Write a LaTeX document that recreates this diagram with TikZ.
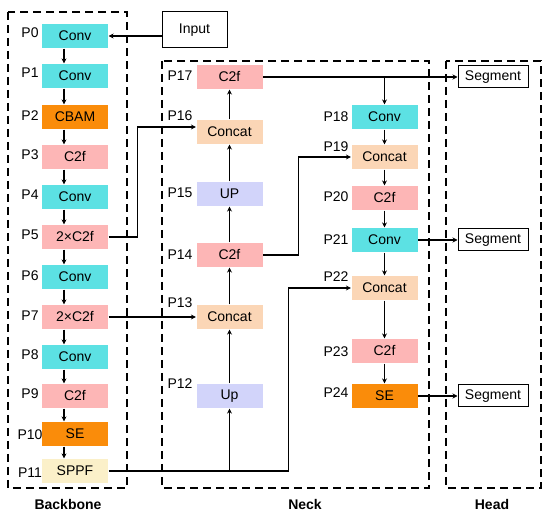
\documentclass[tikz,border=0pt]{standalone}
\usepackage{fontspec}
\setmainfont{Liberation Sans}
\usetikzlibrary{arrows.meta, positioning}
\definecolor{convcyan}{HTML}{5CE1E3}
\definecolor{attnorange}{HTML}{FA8C0A}
\definecolor{cfpink}{HTML}{FDB6B6}
\definecolor{catpeach}{HTML}{FBD6B6}
\definecolor{uplav}{HTML}{D2D4FA}
\definecolor{sppfcream}{HTML}{FBF0C9}

\begin{document}
\begin{tikzpicture}[
      x=1pt, y=-1pt,
      every node/.style={font=\fontsize{14}{16}\selectfont},
      blk/.style={minimum width=66pt, minimum height=24pt, inner sep=0pt},
      conv/.style={blk, fill=convcyan},
      attn/.style={blk, fill=attnorange},
      cf/.style={blk, fill=cfpink},
      cat/.style={blk, fill=catpeach},
      upl/.style={blk, fill=uplav},
      sppf/.style={blk, fill=sppfcream},
      io/.style={draw, line width=1pt, fill=white, inner sep=0pt},
      lbl/.style={inner sep=0pt},
      part/.style={draw, line width=1.3pt, dash pattern=on 8pt off 5pt},
      title/.style={font=\fontsize{14}{16}\selectfont\bfseries},
      >={Stealth[length=5pt, width=5pt]},
      line width=1.1pt,
    ]
    \useasboundingbox (0,0) rectangle (550,516);

    % dashed parts
    \draw[part] (8,12) rectangle (127,488);
    \draw[part] (162,61) rectangle (429,488);
    \draw[part] (446,61) rectangle (541,488);
    \node[title] (tback) at (68,504) {Backbone};
    \node[title] (tneck) at (305,504) {Neck};
    \node[title] (thead) at (492,504) {Head};

    % backbone
    \node[conv] (p0) at (75,36) {Conv};
    \node[conv] (p1) at (75,76) {Conv};
    \node[attn] (p2) at (75,117) {CBAM};
    \node[cf] (p3) at (75,157) {C2f};
    \node[conv] (p4) at (75,197) {Conv};
    \node[cf] (p5) at (75,237) {2×C2f};
    \node[conv] (p6) at (75,277) {Conv};
    \node[cf] (p7) at (75,317) {2×C2f};
    \node[conv] (p8) at (75,357) {Conv};
    \node[cf] (p9) at (75,396) {C2f};
    \node[attn] (p10) at (75,434) {SE};
    \node[sppf] (p11) at (75,471) {SPPF};

    \node[lbl] (l0) at (30,33) {P0};
    \node[lbl] (l1) at (30,73) {P1};
    \node[lbl] (l2) at (30,116) {P2};
    \node[lbl] (l3) at (30,155) {P3};
    \node[lbl] (l4) at (30,195) {P4};
    \node[lbl] (l5) at (30,235) {P5};
    \node[lbl] (l6) at (30,276) {P6};
    \node[lbl] (l7) at (30,316) {P7};
    \node[lbl] (l8) at (30,355) {P8};
    \node[lbl] (l9) at (30,394) {P9};
    \node[lbl] (l10) at (30,435) {P10};
    \node[lbl] (l11) at (30,473) {P11};

    % neck, upward path
    \node[upl] (p12) at (229.5,396) {Up};
    \node[cat] (p13) at (229.5,317) {Concat};
    \node[cf] (p14) at (229.5,255) {C2f};
    \node[upl] (p15) at (229.5,194) {UP};
    \node[cat] (p16) at (229.5,132) {Concat};
    \node[cf] (p17) at (229.5,77) {C2f};

    \node[lbl] (l12) at (180,384) {P12};
    \node[lbl] (l13) at (180,303) {P13};
    \node[lbl] (l14) at (180,255) {P14};
    \node[lbl] (l15) at (180,193) {P15};
    \node[lbl] (l16) at (180,116) {P16};
    \node[lbl] (l17) at (180,76) {P17};

    % neck, downward path
    \node[conv] (p18) at (384.5,117) {Conv};
    \node[cat] (p19) at (384.5,157) {Concat};
    \node[cf] (p20) at (384.5,198) {C2f};
    \node[conv] (p21) at (384.5,240) {Conv};
    \node[cat] (p22) at (384.5,288) {Concat};
    \node[cf] (p23) at (384.5,351) {C2f};
    \node[attn] (p24) at (384.5,396) {SE};

    \node[lbl] (l18) at (336,117) {P18};
    \node[lbl] (l19) at (336,147) {P19};
    \node[lbl] (l20) at (336,197) {P20};
    \node[lbl] (l21) at (336,240) {P21};
    \node[lbl] (l22) at (336,277) {P22};
    \node[lbl] (l23) at (336,352) {P23};
    \node[lbl] (l24) at (336,393) {P24};

    % input and head
    \node[io, minimum width=65pt, minimum height=36pt] (inp) at (194.5,30) {Input};
    \node[io, minimum width=70pt, minimum height=22pt] (seg1) at (493,77) {Segment};
    \node[io, minimum width=70pt, minimum height=22pt] (seg2) at (493,240) {Segment};
    \node[io, minimum width=70pt, minimum height=22pt] (seg3) at (493,396) {Segment};

    % connectors
    \draw[->] (inp.west |- p0.east) -- (p0.east);
    \draw[->] ([xshift=-11pt]p0.south) -- ([xshift=-11pt]p1.north);
    \draw[->] ([xshift=-11pt]p1.south) -- ([xshift=-11pt]p2.north);
    \draw[->] ([xshift=-11pt]p2.south) -- ([xshift=-11pt]p3.north);
    \draw[->] ([xshift=-11pt]p3.south) -- ([xshift=-11pt]p4.north);
    \draw[->] ([xshift=-11pt]p4.south) -- ([xshift=-11pt]p5.north);
    \draw[->] ([xshift=-11pt]p5.south) -- ([xshift=-11pt]p6.north);
    \draw[->] ([xshift=-11pt]p6.south) -- ([xshift=-11pt]p7.north);
    \draw[->] ([xshift=-11pt]p7.south) -- ([xshift=-11pt]p8.north);
    \draw[->] ([xshift=-11pt]p8.south) -- ([xshift=-11pt]p9.north);
    \draw[->] ([xshift=-11pt]p9.south) -- ([xshift=-11pt]p10.north);
    \draw[->] ([xshift=-11pt]p10.south) -- ([xshift=-11pt]p11.north);

    \draw[->] (p5.east) -- ++(29,0) |- ([yshift=5pt]p16.west);
    \draw[->] (p7.east) -- (p13.west);
    \draw[->] (p11.east) -- ++(180,0) |- (p22.west);
    \draw[->] (p11.east -| p12.south) -- (p12.south);

    \draw[->] (p12.north) -- (p13.south);
    \draw[->] (p13.north) -- (p14.south);
    \draw[->] (p14.north) -- (p15.south);
    \draw[->] (p15.north) -- (p16.south);
    \draw[->] (p16.north) -- (p17.south);

    \draw[->] (p14.east) -- ++(35,0) |- (p19.west);
    \draw[->] (p17.east) -- (seg1.west);
    \draw[->] (p17.east -| p18.north) -- (p18.north);

    \draw[->] (p18.south) -- (p19.north);
    \draw[->] (p19.south) -- (p20.north);
    \draw[->] (p20.south) -- (p21.north);
    \draw[->] (p21.south) -- (p22.north);
    \draw[->] (p22.south) -- (p23.north);
    \draw[->] (p23.south) -- (p24.north);

    \draw[->] (p21.east) -- (seg2.west);
    \draw[->] (p24.east) -- (seg3.west);
  \end{tikzpicture}
\end{document}
